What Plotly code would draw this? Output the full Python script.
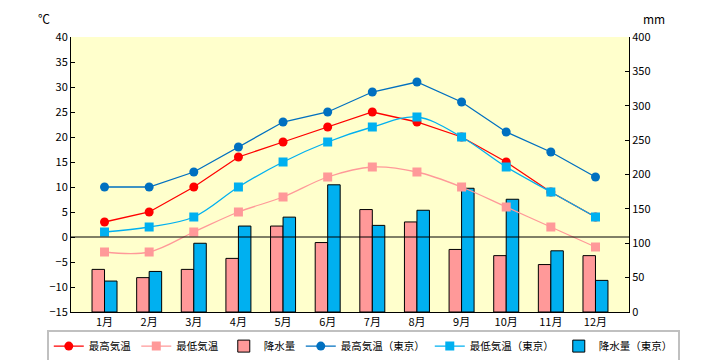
import plotly.graph_objects as go

months = ["1月", "2月", "3月", "4月", "5月", "6月", "7月", "8月", "9月", "10月", "11月", "12月"]
tmax = [3, 5, 10, 16, 19, 22, 25, 23, 20, 15, 9, 4]
tmin = [-3, -3, 1, 5, 8, 12, 14, 13, 10, 6, 2, -2]
precip = [62, 50, 62, 78, 125, 101, 149, 131, 91, 82, 69, 82]
tmax_tokyo = [10, 10, 13, 18, 23, 25, 29, 31, 27, 21, 17, 12]
tmin_tokyo = [1, 2, 4, 10, 15, 19, 22, 24, 20, 14, 9, 4]
precip_tokyo = [45, 59, 100, 125, 138, 185, 126, 148, 180, 164, 89, 46]

FONT = "Noto Sans CJK JP"

fig = go.Figure()
fig.add_trace(go.Scatter(x=months, y=tmax, name="最高気温", mode="lines+markers",
                         line=dict(color="#FF0000", width=1.3),
                         marker=dict(symbol="circle", size=9, color="#FF0000"), yaxis="y2"))
fig.add_trace(go.Scatter(x=months, y=tmin, name="最低気温", mode="lines+markers",
                         line=dict(color="#FF9999", width=1.3, shape="spline"),
                         marker=dict(symbol="square", size=9, color="#FF9999"), yaxis="y2"))
fig.add_trace(go.Bar(x=months, y=precip, name="降水量",
                     marker=dict(color="#FF9999", line=dict(color="#000000", width=1)), yaxis="y"))
fig.add_trace(go.Scatter(x=months, y=tmax_tokyo, name="最高気温（東京）", mode="lines+markers",
                         line=dict(color="#0070C0", width=1.3),
                         marker=dict(symbol="circle", size=9, color="#0070C0"), yaxis="y2"))
fig.add_trace(go.Scatter(x=months, y=tmin_tokyo, name="最低気温（東京）", mode="lines+markers",
                         line=dict(color="#00B0F0", width=1.3, shape="spline"),
                         marker=dict(symbol="square", size=9, color="#00B0F0"), yaxis="y2"))
fig.add_trace(go.Bar(x=months, y=precip_tokyo, name="降水量（東京）",
                     marker=dict(color="#00B0F0", line=dict(color="#000000", width=1)), yaxis="y"))

fig.update_layout(
    width=720, height=360,
    margin=dict(l=71, r=91, t=37, b=48, autoexpand=False),
    paper_bgcolor="#FFFFFF",
    plot_bgcolor="#FFFFCC",
    font=dict(family=FONT, size=11, color="#000000"),
    barmode="group", bargap=0.44, bargroupgap=0,
    showlegend=True,
    legend=dict(orientation="h", x=1.091, xanchor="right", y=-0.064, yanchor="top",
                bordercolor="#C0C0C0", borderwidth=2, bgcolor="#FFFFFF",
                font=dict(family=FONT, size=10.5), traceorder="normal", itemwidth=30),
    xaxis=dict(showline=True, linecolor="#000000", linewidth=1, showgrid=False,
               ticks="", tickfont=dict(size=11), automargin=False),
    yaxis=dict(side="right", range=[0, 400], dtick=50, showgrid=False, zeroline=False,
               showline=True, linecolor="#000000", linewidth=1, ticks="inside",
               ticklen=4, tickcolor="#000000", tickfont=dict(size=11), automargin=False),
    yaxis2=dict(side="left", overlaying="y", range=[-15, 40], dtick=5, showgrid=False,
                zeroline=False, showline=True, linecolor="#000000", linewidth=1,
                ticks="inside", ticklen=4, tickcolor="#000000", tickfont=dict(size=11),
                automargin=False),
    shapes=[dict(type="line", xref="paper", x0=0, x1=1, yref="y2", y0=0, y1=0,
                 line=dict(color="#000000", width=1), layer="above")],
    annotations=[
        dict(text="℃", xref="paper", yref="paper", x=-0.048, y=1.069,
             xanchor="center", yanchor="middle", showarrow=False, font=dict(size=12)),
        dict(text="mm", xref="paper", yref="paper", x=1.045, y=1.069,
             xanchor="center", yanchor="middle", showarrow=False, font=dict(size=12)),
    ],
)

fig.write_html("out.html", config={"displayModeBar": False},
               post_script="document.body.style.margin='0px';")
